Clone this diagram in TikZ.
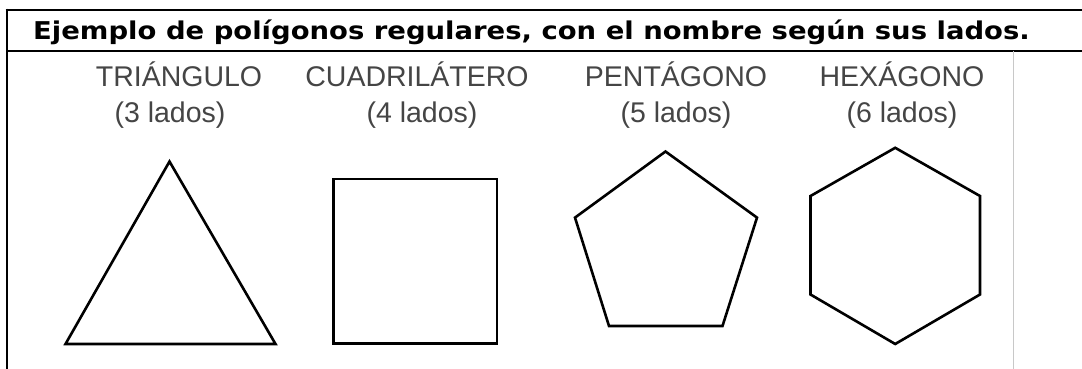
\documentclass[tikz,border=0pt]{standalone}
\usepackage{fontspec}
\setmainfont{Liberation Sans}
\newfontfamily\titlefont{DejaVu Sans}
\definecolor{labelgray}{HTML}{454545}
\definecolor{rulegray}{HTML}{C8C8C8}
\begin{document}
\begin{tikzpicture}[x=1pt,y=-1pt,
  frame/.style={line width=2.6pt,black},
  shapeline/.style={line width=2.6pt,black,line join=miter},
  lbl/.style={inner sep=0pt,anchor=base,text=labelgray,font=\fontsize{28.5}{28.5}\selectfont},
  ttl/.style={inner sep=0pt,anchor=base west,font=\titlefont\bfseries\fontsize{24.5}{24.5}\selectfont}]
\useasboundingbox (0,0) rectangle (1082,369);
\fill[white] (0,0) rectangle (1082,369);
% frame
\coordinate (tl) at (5.7,10);
\coordinate (tr) at (1082,10);
\coordinate (lt) at (7,8.7);
\coordinate (bl) at (7,369);
\coordinate (hl) at (7,51);
\coordinate (hr) at (1082,51);
\coordinate (gt) at (1013,51);
\coordinate (gb) at (1013,369);
\draw[frame] (tl) -- (tr);
\draw[frame] (lt) -- (bl);
\draw[frame] (hl) -- (hr);
\draw[rulegray,line width=1pt] (gt) -- (gb);
% title
\node[ttl] (title) at (33,39.5) {\scalebox{1.12}[1]{Ejemplo de polígonos regulares, con el nombre según sus lados.}};
% labels
\node[lbl] (l1) at (179,87) {TRIÁNGULO};
\node[lbl] (n1) at (170,122) {(3 lados)};
\node[lbl] (l2) at (417,87) {CUADRILÁTERO};
\node[lbl] (n2) at (422,122) {(4 lados)};
\node[lbl] (l3) at (676,87) {PENTÁGONO};
\node[lbl] (n3) at (676,122) {(5 lados)};
\node[lbl] (l4) at (902,87) {HEXÁGONO};
\node[lbl] (n4) at (902,122) {(6 lados)};
% triangle
\draw[shapeline] (169.5,161.5) -- (275.5,344) -- (65.5,344) -- cycle;
% square
\draw[shapeline] (333.5,179) rectangle (497,343.5);
% pentagon
\draw[shapeline] (665.5,151.5) -- (757,217.6) -- (722.5,326) -- (609,326) -- (575,217.6) -- cycle;
% hexagon
\draw[shapeline] (895.2,147.8) -- (980,196) -- (980,294.5) -- (895.2,344) -- (810.5,294.5) -- (810.5,196) -- cycle;
\end{tikzpicture}
\end{document}
